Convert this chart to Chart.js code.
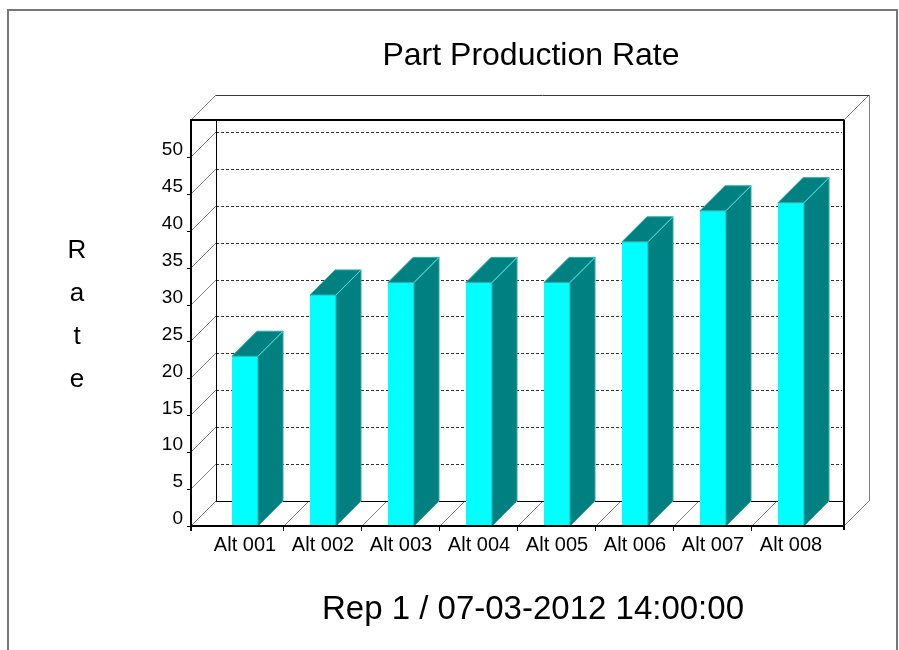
<!DOCTYPE html>
<html>
<head>
<meta charset="utf-8">
<title>Part Production Rate</title>
<script src="https://cdn.jsdelivr.net/npm/chart.js@4.4.1/dist/chart.umd.min.js"></script>
<style>
    html, body { margin: 0; padding: 0; background: #ffffff; }
    #wrap { position: relative; width: 899px; height: 650px; }
</style>
</head>
<body>
<div id="wrap"><canvas id="rateChart"></canvas></div>
<script>
// chart data
const categories = ['Alt 001', 'Alt 002', 'Alt 003', 'Alt 004', 'Alt 005', 'Alt 006', 'Alt 007', 'Alt 008'];
const rateValues = [23.0, 31.3, 33.0, 33.0, 33.0, 38.5, 42.7, 43.8];
const yAxisMax = 55;
const yAxisStep = 5;

const chartTitle = 'Part Production Rate';
const footerText = 'Rep 1 / 07-03-2012 14:00:00';
const axisTitle = ['R', 'a', 't', 'e'];

// 3D box settings
const DEPTH = 25;
const FRAME_PAD_L = 15;
const FRAME_PAD_R = 14;
const FONT = '"Liberation Sans", Arial, sans-serif';

function line(ctx, x1, y1, x2, y2) {
    ctx.beginPath();
    ctx.moveTo(x1, y1);
    ctx.lineTo(x2, y2);
    ctx.stroke();
}

function poly(ctx, pts) {
    ctx.beginPath();
    ctx.moveTo(pts[0][0], pts[0][1]);
    for (let i = 1; i < pts.length; i++) ctx.lineTo(pts[i][0], pts[i][1]);
    ctx.closePath();
    ctx.fill();
    ctx.stroke();
}

// draws the walls, floor, bar sides/tops and the frame around the plot
const box3d = {
    id: 'box3d',
    beforeDatasetsDraw(chart) {
        const { ctx, chartArea: a, scales: { x, y } } = chart;
        const left = a.left - FRAME_PAD_L;
        const right = a.right + FRAME_PAD_R;
        const top = a.top;
        const bottom = a.bottom;

        ctx.save();
        ctx.lineWidth = 1;

        // dashed gridlines on the back wall
        ctx.strokeStyle = '#333333';
        ctx.setLineDash([3, 2]);
        y.ticks.forEach(t => {
            if (t.value === 0 || t.value === y.max) return;
            const py = Math.round(y.getPixelForValue(t.value)) - DEPTH + 0.5;
            line(ctx, left + DEPTH, py, right - 2, py);
        });
        ctx.setLineDash([]);

        // left wall diagonals at each tick
        ctx.strokeStyle = '#808080';
        y.ticks.forEach(t => {
            const py = Math.round(y.getPixelForValue(t.value));
            line(ctx, left, py, left + DEPTH, py - DEPTH);
        });

        // floor diagonals at category boundaries
        for (let i = 1; i < categories.length; i++) {
            const px = Math.round((x.getPixelForValue(i - 1) + x.getPixelForValue(i)) / 2);
            line(ctx, px, bottom, px + DEPTH, bottom - DEPTH);
        }
        line(ctx, right, bottom, right + DEPTH, bottom - DEPTH);
        line(ctx, right, top, right + DEPTH, top - DEPTH);

        // back edges
        ctx.strokeStyle = '#3a3a3a';
        line(ctx, left + DEPTH, top - DEPTH + 0.5, right + DEPTH, top - DEPTH + 0.5);
        ctx.strokeStyle = '#808080';
        line(ctx, right + DEPTH + 0.5, top - DEPTH, right + DEPTH + 0.5, bottom - DEPTH);
        ctx.strokeStyle = '#000000';
        line(ctx, left + DEPTH + 0.5, top, left + DEPTH + 0.5, bottom - DEPTH);
        line(ctx, left + DEPTH, bottom - DEPTH + 0.5, right, bottom - DEPTH + 0.5);
        ctx.restore();
    },
    afterDatasetsDraw(chart) {
        const { ctx, chartArea: a, scales: { x, y } } = chart;
        const left = a.left - FRAME_PAD_L;
        const right = a.right + FRAME_PAD_R;
        const top = a.top;
        const bottom = a.bottom;

        ctx.save();
        ctx.lineWidth = 1;

        // bar side and top faces
        chart.getDatasetMeta(0).data.forEach(bar => {
            const { x: bx, y: by, base, width } = bar.getProps(['x', 'y', 'base', 'width'], true);
            const l = bx - width / 2;
            const r = bx + width / 2;
            ctx.fillStyle = '#008080';
            ctx.strokeStyle = '#2fa9a9';
            poly(ctx, [[r, by], [r + DEPTH, by - DEPTH], [r + DEPTH, base - DEPTH], [r, base]]);
            poly(ctx, [[l, by], [l + DEPTH, by - DEPTH], [r + DEPTH, by - DEPTH], [r, by]]);
            ctx.strokeStyle = '#40e0e0';
            line(ctx, r, by, r + DEPTH, by - DEPTH);
        });

        // front frame
        ctx.strokeStyle = '#000000';
        ctx.lineWidth = 2;
        line(ctx, left, top, right, top);
        line(ctx, right, top, right, bottom + 4);
        line(ctx, left, top - 1, left, bottom + 5);
        line(ctx, left - 1, bottom, right + 1, bottom);

        // tick marks
        ctx.lineWidth = 1;
        y.ticks.forEach(t => {
            const py = Math.round(y.getPixelForValue(t.value)) + 0.5;
            if (t.value !== y.max) line(ctx, left - 4, py, left, py);
        });
        for (let i = 1; i < categories.length; i++) {
            const px = Math.round((x.getPixelForValue(i - 1) + x.getPixelForValue(i)) / 2) - 0.5;
            line(ctx, px, bottom, px, bottom + 5);
        }
        ctx.restore();
    },
    afterDraw(chart) {
        const { ctx } = chart;
        ctx.save();
        ctx.fillStyle = '#000000';
        ctx.textAlign = 'center';
        ctx.textBaseline = 'alphabetic';

        ctx.font = '32px ' + FONT;
        ctx.fillText(chartTitle, 531, 65);
        ctx.font = '33px ' + FONT;
        ctx.fillText(footerText, 533, 619);

        ctx.font = '26px ' + FONT;
        axisTitle.forEach((ch, i) => ctx.fillText(ch, 77, 258 + i * 43));

        // outer border
        ctx.strokeStyle = '#777777';
        ctx.lineWidth = 2;
        ctx.strokeRect(8, 10, 889, 700);
        ctx.restore();
    }
};

const ctx = document.getElementById('rateChart');
new Chart(ctx, {
    type: 'bar',
    data: {
        labels: categories,
        datasets: [{
            label: 'Rate',
            data: rateValues,
            backgroundColor: '#00ffff',
            borderWidth: 0,
            categoryPercentage: 1,
            barPercentage: 1 / 3
        }]
    },
    options: {
        responsive: true,
        maintainAspectRatio: false,
        animation: false,
        layout: { padding: { top: 120, right: 69, bottom: 0, left: 0 } },
        plugins: {
            legend: { display: false },
            tooltip: { enabled: false }
        },
        scales: {
            x: {
                offset: true,
                grid: { display: false, drawTicks: false },
                border: { display: false },
                ticks: {
                    color: '#000000',
                    padding: 7,
                    maxRotation: 0,
                    font: { family: FONT, size: 20 }
                },
                afterFit: (scale) => { scale.height = 124; }
            },
            y: {
                min: 0,
                max: yAxisMax,
                grid: { display: false, drawTicks: false },
                border: { display: false },
                ticks: {
                    stepSize: yAxisStep,
                    color: '#000000',
                    padding: 23,
                    labelOffset: -7,
                    font: { family: FONT, size: 19 },
                    callback: (v) => v === yAxisMax ? '' : v
                },
                afterFit: (scale) => { scale.width = 206; }
            }
        }
    },
    plugins: [box3d]
});
</script>
</body>
</html>
